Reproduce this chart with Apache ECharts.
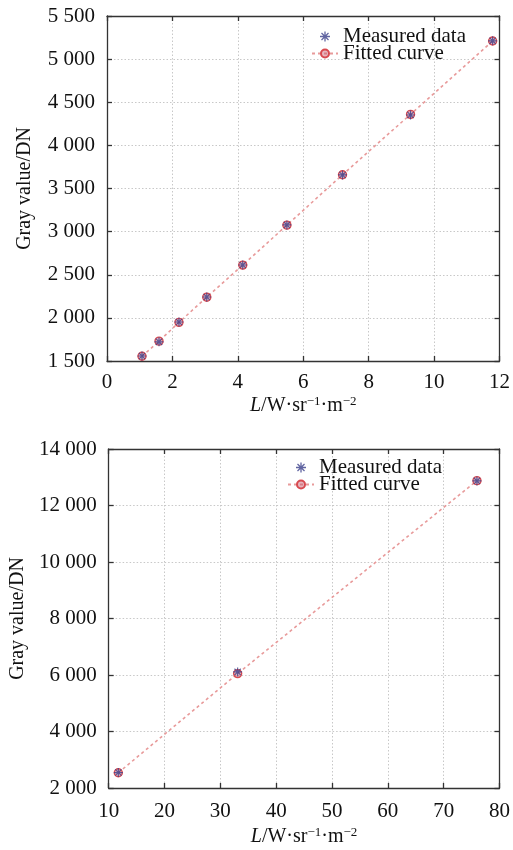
<!DOCTYPE html>
<html>
<head>
<meta charset="utf-8">
<script src="https://cdn.jsdelivr.net/npm/echarts@6/dist/echarts.min.js"></script>
<style>
html,body{margin:0;padding:0;background:#fff;}
#c{width:513px;height:850px;}
</style>
</head>
<body>
<div id="c"></div>
<script>
// ---- Data ----
const topRadiance = [1.07, 1.59, 2.2, 3.05, 4.15, 5.5, 7.2, 9.28, 11.79];
const topMeasured = [1558, 1722, 1952, 2242, 2613, 3078, 3657, 4352, 5212];
const topFitted   = [1555, 1730, 1948, 2240, 2612, 3075, 3660, 4360, 5210];

const botRadiance = [11.73, 33.1, 75.96];
const botMeasured = [2547, 6110, 12871];
const botFitted   = [2540, 6050, 12880];

const seriesNames = ['Measured data', 'Fitted curve'];
const yTitle = 'Gray value/DN';

const topX = {min: 0, max: 12, interval: 2};
const topY = {min: 1500, max: 5500, interval: 500};
const botX = {min: 10, max: 80, interval: 10};
const botY = {min: 2000, max: 14000, interval: 2000};

// ---- Helpers ----
const FONT = 'Liberation Serif';
const fmt = v => v >= 1000 ? Math.floor(v / 1000) + ' ' + String(v % 1000).padStart(3, '0') : String(v);
const zip = (a, b) => a.map((x, i) => [x, b[i]]);

const asterisk = 'path://M-1.3,-10L1.3,-10L1.3,10L-1.3,10Z M-10,-1.3L10,-1.3L10,1.3L-10,1.3Z M-7.9,-6.1L-6.1,-7.9L7.9,6.1L6.1,7.9Z M7.9,-6.1L-6.1,7.9L-7.9,6.1L6.1,-7.9Z';

const axisCol = '#333';
const gridLine = {show: true, lineStyle: {color: '#c8c8c8', type: [1.5, 2], width: 1}};

function mainX(grid, r, gap, margin) {
  return {
    type: 'value', gridIndex: grid, min: r.min, max: r.max, interval: r.interval,
    name: '{i|L}/W·sr{s|−1}·m{s|−2}', nameLocation: 'middle', nameGap: gap,
    nameTextStyle: {
      fontFamily: FONT, fontSize: 20, color: '#111', lineHeight: 22,
      rich: {
        i: {fontFamily: FONT, fontSize: 20, fontStyle: 'italic', color: '#111', lineHeight: 22},
        s: {fontFamily: FONT, fontSize: 13, color: '#111', verticalAlign: 'top', lineHeight: 22, padding: [0, 0, 10, 0]}
      }
    },
    axisLine: {show: true, onZero: false, lineStyle: {color: axisCol, width: 1.3}},
    axisTick: {show: true, inside: true, length: 5, lineStyle: {color: axisCol, width: 1.3}},
    axisLabel: {fontFamily: FONT, fontSize: 21, color: '#111', margin: margin},
    splitLine: gridLine
  };
}
function mainY(grid, r) {
  return {
    type: 'value', gridIndex: grid, min: r.min, max: r.max, interval: r.interval,
    name: yTitle, nameLocation: 'middle', nameGap: 72,
    nameTextStyle: {fontFamily: FONT, fontSize: 20, color: '#111'},
    axisLine: {show: true, onZero: false, lineStyle: {color: axisCol, width: 1.3}},
    axisTick: {show: true, inside: true, length: 5, lineStyle: {color: axisCol, width: 1.3}},
    axisLabel: {fontFamily: FONT, fontSize: 21, color: '#111', margin: 12, formatter: fmt},
    splitLine: gridLine
  };
}
function mirrorX(grid, r) {
  return {
    type: 'value', gridIndex: grid, position: 'top', min: r.min, max: r.max, interval: r.interval,
    axisLine: {show: true, onZero: false, lineStyle: {color: axisCol, width: 1.3}},
    axisTick: {show: true, inside: true, length: 5, lineStyle: {color: axisCol, width: 1.3}},
    axisLabel: {show: false}, splitLine: {show: false}
  };
}
function mirrorY(grid, r) {
  return {
    type: 'value', gridIndex: grid, position: 'right', min: r.min, max: r.max, interval: r.interval,
    axisLine: {show: true, onZero: false, lineStyle: {color: axisCol, width: 1.3}},
    axisTick: {show: true, inside: true, length: 5, lineStyle: {color: axisCol, width: 1.3}},
    axisLabel: {show: false}, splitLine: {show: false}
  };
}
function fittedSeries(xi, yi, data) {
  return {
    name: seriesNames[1], type: 'line', xAxisIndex: xi, yAxisIndex: yi, data: data,
    symbol: 'circle', symbolSize: 8, z: 2,
    lineStyle: {color: '#e89a9a', width: 1.6, type: [3, 3]},
    itemStyle: {color: 'rgba(200,90,110,0.45)', borderColor: '#d84a50', borderWidth: 1.4},
    emphasis: {disabled: true}, animation: false
  };
}
function measuredSeries(xi, yi, data) {
  return {
    name: seriesNames[0], type: 'scatter', xAxisIndex: xi, yAxisIndex: yi, data: data,
    symbol: asterisk, symbolSize: 9, z: 3,
    itemStyle: {color: '#3a3f8a'},
    emphasis: {disabled: true}, animation: false
  };
}

const legendText = {fontFamily: FONT, fontSize: 21, color: '#111'};

const option = {
  backgroundColor: '#fff',
  animation: false,
  grid: [
    {left: 107, top: 16, width: 393, height: 345, show: false},
    {left: 107, top: 449, width: 393, height: 344, show: false}
  ],
  legend: [
    {orient: 'vertical', left: 306, top: 21, itemGap: -4, itemWidth: 26, itemHeight: 10,
     textStyle: legendText, data: seriesNames, selectedMode: false},
    {orient: 'vertical', left: 282, top: 452, itemGap: -4, itemWidth: 26, itemHeight: 10,
     textStyle: legendText, data: seriesNames, selectedMode: false}
  ],
  xAxis: [mainX(0, topX, 34, 11), mirrorX(0, topX), mainX(1, botX, 38, 13), mirrorX(1, botX)],
  yAxis: [mainY(0, topY), mirrorY(0, topY), mainY(1, botY), mirrorY(1, botY)],
  series: [
    measuredSeries(0, 0, zip(topRadiance, topMeasured)),
    fittedSeries(0, 0, zip(topRadiance, topFitted)),
    measuredSeries(2, 2, zip(botRadiance, botMeasured)),
    fittedSeries(2, 2, zip(botRadiance, botFitted))
  ]
};

const chart = echarts.init(document.getElementById('c'), null, {renderer: 'canvas'});
chart.setOption(option);
</script>
</body>
</html>
